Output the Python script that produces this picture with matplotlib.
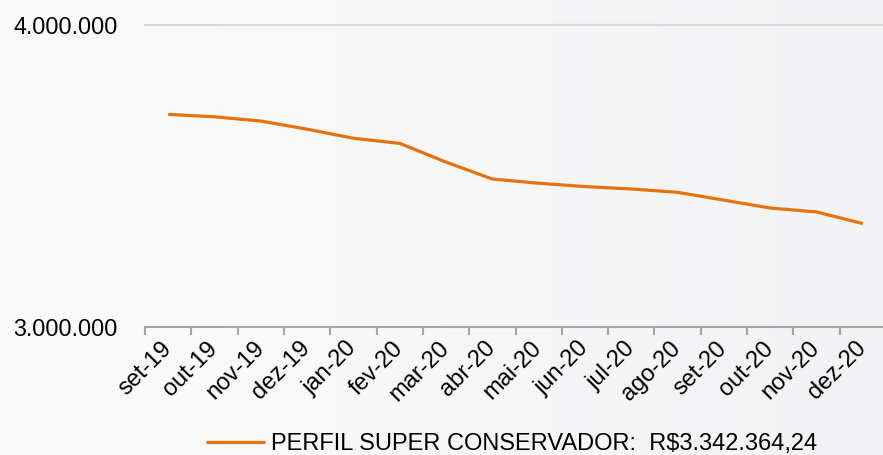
import matplotlib
matplotlib.use("Agg")
import matplotlib.pyplot as plt
import numpy as np
from matplotlib.colors import LinearSegmentedColormap

months = ["set-19", "out-19", "nov-19", "dez-19", "jan-20", "fev-20", "mar-20", "abr-20",
          "mai-20", "jun-20", "jul-20", "ago-20", "set-20", "out-20", "nov-20", "dez-20"]
values = [3704000, 3696000, 3682000, 3655000, 3625000, 3608000, 3546000, 3490000,
          3476000, 3465000, 3457000, 3446000, 3420000, 3394000, 3381000, 3342364.24]
y_ticks = [3000000, 4000000]
y_labels = ["3.000.000", "4.000.000"]
series_name = "PERFIL SUPER CONSERVADOR:  R$3.342.364,24"

plt.rcParams['font.family'] = ['Liberation Sans', 'DejaVu Sans']

W, H = 883, 455
fig = plt.figure(figsize=(W / 100, H / 100), dpi=100)

# subtle background gradient
bg = fig.add_axes([0, 0, 1, 1], zorder=-10)
grad = np.linspace(0, 1, 256)[None, :]
cmap = LinearSegmentedColormap.from_list("bg", ["#fbfbfb", "#f3f3f5"])
bg.imshow(grad, aspect="auto", cmap=cmap, extent=[0, 1, 0, 1])
bg.set_axis_off()

left = 145 / W
right = 886 / W
top = 1 - 25 / H
bottom = 1 - 327 / H
ax = fig.add_axes([left, bottom, right - left, top - bottom])
ax.patch.set_alpha(0)

x = np.arange(len(months))
ax.plot(x, values, color="#E8710F", lw=2.3, solid_capstyle="butt", label=series_name, zorder=3)

ax.set_xlim(-0.5, len(months) - 0.5)
ax.set_ylim(3000000, 4000000)
ax.set_yticks(y_ticks)
ax.set_yticklabels(y_labels, fontsize=16.8)
ax.tick_params(axis="y", length=0, pad=19.5)
ax.axhline(4000000, color="#d9d9d9", lw=1.5, zorder=1, clip_on=False)

for s in ["left", "right", "top"]:
    ax.spines[s].set_visible(False)
ax.spines["bottom"].set_color("#a6a6a6")
ax.spines["bottom"].set_linewidth(1.5)

ax.set_xticks(x)
ax.set_xticklabels(months, rotation=45, ha="right", va="center", rotation_mode="anchor", fontsize=17)
ax.tick_params(axis="x", which="major", length=0, pad=13)
ax.set_xticks(np.arange(len(months) + 1) - 0.5, minor=True)
ax.tick_params(axis="x", which="minor", length=6, width=1.5, color="#a6a6a6")

fig.legend(loc="lower center", bbox_to_anchor=((left + right) / 2 - 4 / W, -0.047), frameon=False,
           fontsize=17, handlelength=2.5, handletextpad=0.25)

fig.savefig("out.png", dpi=100)
